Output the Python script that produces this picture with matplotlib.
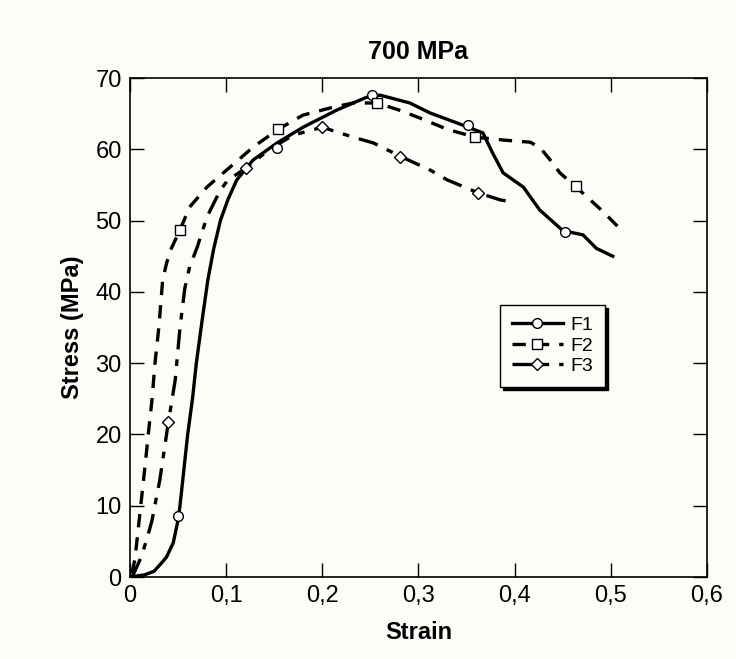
import matplotlib
matplotlib.use('Agg')
from matplotlib import pyplot as plt
from matplotlib import font_manager

# curve data (strain, stress in MPa)
f1_strain = [0, 0.015, 0.025, 0.033, 0.038, 0.045, 0.050, 0.052, 0.056, 0.060, 0.065, 0.069,
             0.075, 0.081, 0.087, 0.094, 0.102, 0.111, 0.128, 0.153, 0.180, 0.215, 0.246,
             0.260, 0.291, 0.312, 0.340, 0.367, 0.377, 0.388, 0.409, 0.426, 0.450, 0.471,
             0.485, 0.502]
f1_stress = [0, 0.3, 0.8, 2.0, 2.8, 4.8, 8.0, 10, 15, 20, 25, 30,
             36, 41.7, 46, 50, 53, 55.7, 58.5, 60.9, 63.1, 65.5, 67.3,
             67.6, 66.5, 65.1, 63.7, 62.3, 59.5, 56.7, 54.7, 51.5, 48.6, 48.0,
             46.1, 45.0]
f1_mark_strain = [0.05, 0.153, 0.252, 0.351, 0.452]
f1_mark_stress = [8.5, 60.2, 67.6, 63.4, 48.4]

f2_strain = [0.002, 0.005, 0.008, 0.012, 0.016, 0.019, 0.023, 0.026, 0.030, 0.034, 0.038,
             0.042, 0.052, 0.062, 0.080, 0.104, 0.128, 0.154, 0.180, 0.211, 0.232, 0.257,
             0.280, 0.305, 0.330, 0.359, 0.388, 0.416, 0.426, 0.437, 0.447, 0.464, 0.490,
             0.513]
f2_stress = [0.5, 2.4, 6, 11, 16, 20, 25, 30, 35, 41.7, 44,
             45.8, 48.7, 51.9, 54.7, 57.5, 60.3, 62.8, 64.8, 65.9, 66.5, 66.5,
             65.5, 64.2, 62.8, 61.7, 61.3, 61.0, 60.3, 58.5, 56.7, 54.7, 51.5,
             48.4]
f2_mark_strain = [0.052, 0.154, 0.257, 0.359, 0.464]
f2_mark_stress = [48.7, 62.8, 66.5, 61.7, 54.8]

f3_strain = [0.002, 0.005, 0.010, 0.014, 0.019, 0.023, 0.031, 0.040, 0.047, 0.052, 0.057,
             0.062, 0.070, 0.080, 0.094, 0.102, 0.121, 0.145, 0.170, 0.200, 0.232, 0.253,
             0.283, 0.312, 0.330, 0.362, 0.385, 0.398]
f3_stress = [0, 0.8, 2.3, 3.8, 6, 8, 13.6, 21.8, 27.6, 35, 40.5,
             43.5, 46.3, 50.5, 54.3, 55.7, 57.4, 60, 62, 63.1, 61.7, 60.9,
             58.9, 57.1, 55.7, 53.9, 52.9, 52.6]
f3_mark_strain = [0.040, 0.121, 0.200, 0.281, 0.362]
f3_mark_stress = [21.8, 57.4, 63.1, 58.9, 53.9]

x_ticks = [0, 0.1, 0.2, 0.3, 0.4, 0.5, 0.6]
x_tick_labels = ['0', '0,1', '0,2', '0,3', '0,4', '0,5', '0,6']
y_ticks = [0, 10, 20, 30, 40, 50, 60, 70]

names = [f.name for f in font_manager.fontManager.ttflist]
if 'Liberation Sans Narrow' in names:
    plt.rcParams['font.family'] = ['Liberation Sans Narrow', 'DejaVu Sans']
else:
    plt.rcParams['font.family'] = ['Liberation Sans', 'DejaVu Sans']

bg = '#fcfdf8'
fig = plt.figure(figsize=(7.36, 6.59), dpi=100, facecolor=bg)
ax = fig.add_axes([0.1766, 0.1244, 0.784, 0.7572])
ax.set_facecolor(bg)

ax.plot(f1_strain, f1_stress, color='black', lw=2.4, ls='-')
ax.plot(f2_strain, f2_stress, color='black', lw=2.4, ls=(0, (4, 3)))
ax.plot(f3_strain, f3_stress, color='black', lw=2.4, ls=(0, (6, 3, 2, 3)))

mk = dict(ls='none', mfc='white', mec='black', mew=1.0, ms=7)
ax.plot(f1_mark_strain, f1_mark_stress, marker='o', **mk)
ax.plot(f2_mark_strain, f2_mark_stress, marker='s', **mk)
ax.plot(f3_mark_strain, f3_mark_stress, marker='D', **dict(mk, ms=6))

# legend proxies
h1, = ax.plot([], [], color='black', lw=2.4, ls='-', marker='o', mfc='white', mec='black', ms=7)
h2, = ax.plot([], [], color='black', lw=2.4, ls=(0, (4, 3)), marker='s', mfc='white', mec='black', ms=7)
h3, = ax.plot([], [], color='black', lw=2.4, ls=(0, (6, 3, 2, 3)), marker='D', mfc='white', mec='black', ms=6)
leg = ax.legend([h1, h2, h3], ['F1', 'F2', 'F3'], loc='upper left',
                bbox_to_anchor=(0.625, 0.565), fontsize=14, frameon=True,
                fancybox=False, shadow={'color': 'black', 'alpha': 1.0},
                handlelength=2.6, borderpad=0.6, labelspacing=0.15,
                handletextpad=0.4)
leg.get_frame().set_edgecolor('black')
leg.get_frame().set_linewidth(1.0)
leg.get_frame().set_facecolor(bg)

ax.set_xlim(0, 0.6)
ax.set_ylim(0, 70)
ax.set_xticks(x_ticks)
ax.set_xticklabels(x_tick_labels)
ax.set_yticks(y_ticks)
ax.tick_params(direction='in', length=10, width=1, top=True, right=True,
               labelsize=17, pad=6)
for s in ax.spines.values():
    s.set_linewidth(1.2)

ax.set_title('700 MPa', fontsize=18, fontweight='bold', pad=14)
ax.set_xlabel('Strain', fontsize=17, fontweight='bold', labelpad=10)
ax.set_ylabel('Stress (MPa)', fontsize=17, fontweight='bold', labelpad=8)

fig.savefig('out.png', dpi=100, facecolor=bg)
